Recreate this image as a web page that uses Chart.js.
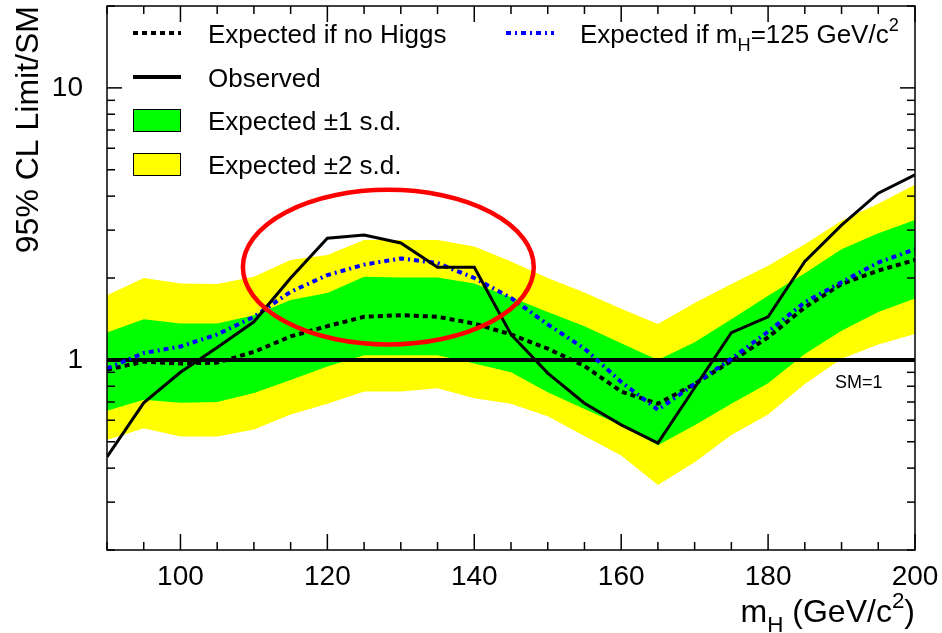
<!doctype html>
<html lang="en">
<head>
<meta charset="utf-8">
<title>95% CL Limit/SM</title>
<script src="https://cdn.jsdelivr.net/npm/chart.js"></script>
<style>
  html, body { margin: 0; padding: 0; background: #fff; }
  #wrap { width: 942px; height: 633px; }
</style>
</head>
<body>
<div id="wrap"><canvas id="limitChart" width="942" height="633"></canvas></div>
<script>
// Higgs mass points (GeV/c^2)
const masses = [90, 95, 100, 105, 110, 115, 120, 125, 130, 135, 140, 145, 150, 155, 160, 165, 170, 175, 180, 185, 190, 195, 200];

// 95% CL limit / SM
const observed        = [0.44, 0.695, 0.90, 1.11, 1.38, 2.00, 2.80, 2.88, 2.69, 2.19, 2.19, 1.24, 0.894, 0.693, 0.577, 0.494, 0.79, 1.26, 1.44, 2.30, 3.13, 4.10, 4.79];
const expectedNoHiggs = [0.92, 0.985, 0.97, 0.977, 1.07, 1.22, 1.33, 1.44, 1.46, 1.44, 1.36, 1.24, 1.10, 0.95, 0.765, 0.69, 0.815, 0.99, 1.21, 1.56, 1.90, 2.13, 2.33];
const expected125     = [0.93, 1.06, 1.12, 1.24, 1.44, 1.78, 2.05, 2.24, 2.36, 2.27, 2.00, 1.69, 1.35, 1.10, 0.83, 0.655, 0.815, 1.01, 1.27, 1.63, 1.93, 2.28, 2.55];

// expected +-1 s.d. and +-2 s.d. bands
const band1Hi = [1.26, 1.41, 1.36, 1.36, 1.46, 1.66, 1.76, 2.02, 2.01, 2.01, 1.91, 1.70, 1.50, 1.33, 1.15, 1.00, 1.16, 1.41, 1.72, 2.08, 2.55, 2.92, 3.27];
const band1Lo = [0.65, 0.713, 0.695, 0.70, 0.755, 0.844, 0.945, 1.04, 1.04, 1.04, 0.97, 0.90, 0.76, 0.66, 0.575, 0.485, 0.575, 0.69, 0.82, 1.05, 1.28, 1.50, 1.68];
const band2Hi = [1.73, 2.00, 1.91, 1.90, 2.02, 2.33, 2.43, 2.76, 2.76, 2.76, 2.61, 2.30, 2.00, 1.77, 1.54, 1.355, 1.62, 1.90, 2.22, 2.66, 3.25, 3.75, 4.40];
const band2Lo = [0.508, 0.56, 0.523, 0.523, 0.555, 0.63, 0.69, 0.765, 0.765, 0.787, 0.723, 0.69, 0.62, 0.525, 0.445, 0.347, 0.42, 0.53, 0.63, 0.815, 1.01, 1.14, 1.245];

// SM = 1 reference
const smMasses = [90, 200];
const smValues = [1, 1];

// axis ticks
const xTicks = [90, 95, 100, 105, 110, 115, 120, 125, 130, 135, 140, 145, 150, 155, 160, 165, 170, 175, 180, 185, 190, 195, 200];
const xLabels = [100, 120, 140, 160, 180, 200];
const yTicks = [0.2, 0.3, 0.4, 0.5, 0.6, 0.7, 0.8, 0.9, 1, 2, 3, 4, 5, 6, 7, 8, 9, 10, 20];
const yLabels = [1, 10];

// highlighted region (mass range, limit range)
const ringMass = [108.5, 148.1];
const ringLimit = [1.14, 4.22];

const FONT = '"Liberation Sans", Arial, Helvetica, sans-serif';

const pts = (xs, ys) => xs.map((x, i) => ({ x: x, y: ys[i] }));

function bandEdge(ys, color, fillTo, order) {
  return {
    data: pts(masses, ys),
    borderColor: 'rgba(0,0,0,0)',
    borderWidth: 0,
    backgroundColor: color,
    fill: fillTo === null ? false : fillTo,
    pointRadius: 0,
    order: order
  };
}

const datasets = [
  { label: 'Observed', data: pts(masses, observed), borderColor: '#000', borderWidth: 3,
    fill: false, pointRadius: 0, order: 1 },
  { label: 'Expected if mH=125', data: pts(masses, expected125), borderColor: '#0000ff', borderWidth: 4,
    borderDash: [5, 4, 2, 4], fill: false, pointRadius: 0, order: 2 },
  { label: 'SM=1', data: pts(smMasses, smValues), borderColor: '#000', borderWidth: 4,
    fill: false, pointRadius: 0, order: 3 },
  { label: 'Expected if no Higgs', data: pts(masses, expectedNoHiggs), borderColor: '#000', borderWidth: 4,
    borderDash: [5, 4], fill: false, pointRadius: 0, order: 4 },
  bandEdge(band1Hi, '#00ff00', 5, 5),
  bandEdge(band1Lo, '#00ff00', null, 6),
  bandEdge(band2Hi, '#ffff00', 7, 7),
  bandEdge(band2Lo, '#ffff00', null, 8)
];

function line(ctx, x1, y1, x2, y2) {
  ctx.beginPath();
  ctx.moveTo(x1, y1);
  ctx.lineTo(x2, y2);
  ctx.stroke();
}

// text with sub/superscripts: parts = [[text, 'sub'|'sup'|undefined], ...]
function richWidth(ctx, parts, size) {
  let w = 0;
  parts.forEach(p => {
    ctx.font = (p[1] ? size * 0.7 : size) + 'px ' + FONT;
    w += ctx.measureText(p[0]).width;
  });
  return w;
}

function drawRich(ctx, parts, x, y, size) {
  ctx.textAlign = 'left';
  ctx.textBaseline = 'alphabetic';
  parts.forEach(p => {
    let dy = 0;
    if (p[1] === 'sub') dy = size * 0.3;
    if (p[1] === 'sup') dy = -size * 0.45;
    ctx.font = (p[1] ? size * 0.7 : size) + 'px ' + FONT;
    ctx.fillText(p[0], x, y + dy);
    x += ctx.measureText(p[0]).width;
  });
}

const decorations = {
  id: 'decorations',
  afterDatasetsDraw(chart) {
    const ctx = chart.ctx;
    const { left, right, top, bottom } = chart.chartArea;
    const xs = chart.scales.x, ys = chart.scales.y;
    const ds = chart.data.datasets;
    ctx.save();
    ctx.fillStyle = '#000';

    // frame and inward ticks on all four sides
    ctx.strokeStyle = '#000';
    ctx.lineWidth = 1.5;
    ctx.setLineDash([]);
    xTicks.forEach(m => {
      const px = xs.getPixelForValue(m);
      const len = xLabels.includes(m) ? 16 : 8;
      line(ctx, px, bottom, px, bottom - len);
      line(ctx, px, top, px, top + len);
    });
    yTicks.forEach(v => {
      const py = ys.getPixelForValue(v);
      const len = yLabels.includes(v) ? 15 : 8;
      line(ctx, left, py, left + len, py);
      line(ctx, right, py, right - len, py);
    });
    ctx.strokeRect(left, top, right - left, bottom - top);

    // SM=1 label
    ctx.font = '18px ' + FONT;
    ctx.textAlign = 'left';
    ctx.textBaseline = 'alphabetic';
    ctx.fillText('SM=1', 835, 388);

    // legend
    const sample = (d, x, y) => {
      ctx.strokeStyle = d.borderColor;
      ctx.lineWidth = 4;
      ctx.setLineDash(d.borderDash || []);
      line(ctx, x, y, x + 48, y);
      ctx.setLineDash([]);
    };
    const box = (color, x, y) => {
      ctx.fillStyle = color;
      ctx.fillRect(x, y, 48, 23);
      ctx.strokeStyle = '#000';
      ctx.lineWidth = 1;
      ctx.strokeRect(x + 0.5, y + 0.5, 47, 22);
      ctx.fillStyle = '#000';
    };
    const LS = 26;
    sample(ds[3], 133, 33);
    drawRich(ctx, [['Expected if no Higgs']], 208, 43, LS);
    sample(ds[0], 133, 77);
    drawRich(ctx, [['Observed']], 208, 87, LS);
    box(ds[4].backgroundColor, 133, 109);
    drawRich(ctx, [['Expected \u00b11 s.d.']], 208, 130, LS);
    box(ds[6].backgroundColor, 133, 153);
    drawRich(ctx, [['Expected \u00b12 s.d.']], 208, 174, LS);
    sample(ds[1], 506, 33);
    drawRich(ctx, [['Expected if m'], ['H', 'sub'], ['=125 GeV/c'], ['2', 'sup']], 580, 43, LS);

    // axis titles
    const xt = [['m'], ['H', 'sub'], [' (GeV/c'], ['2', 'sup'], [')']];
    drawRich(ctx, xt, right - richWidth(ctx, xt, 32), 622, 32);
    ctx.save();
    ctx.translate(38, top);
    ctx.rotate(-Math.PI / 2);
    ctx.font = '32px ' + FONT;
    ctx.textAlign = 'right';
    ctx.textBaseline = 'alphabetic';
    ctx.fillText('95% CL Limit/SM', 0, 0);
    ctx.restore();

    // highlighted region
    const x1 = xs.getPixelForValue(ringMass[0]), x2 = xs.getPixelForValue(ringMass[1]);
    const y1 = ys.getPixelForValue(ringLimit[0]), y2 = ys.getPixelForValue(ringLimit[1]);
    ctx.strokeStyle = '#ff0000';
    ctx.lineWidth = 4.5;
    ctx.beginPath();
    ctx.ellipse((x1 + x2) / 2, (y1 + y2) / 2, Math.abs(x2 - x1) / 2, Math.abs(y1 - y2) / 2, 0, 0, Math.PI * 2);
    ctx.stroke();
    ctx.restore();
  }
};

new Chart(document.getElementById('limitChart'), {
  type: 'line',
  data: { datasets: datasets },
  plugins: [decorations],
  options: {
    responsive: false,
    animation: false,
    layout: { padding: { left: 0, top: 6, right: 27, bottom: 0 } },
    plugins: { legend: { display: false }, tooltip: { enabled: false } },
    elements: { line: { tension: 0 } },
    scales: {
      x: {
        type: 'linear',
        min: 90, max: 200,
        afterBuildTicks: s => { s.ticks = xTicks.map(v => ({ value: v })); },
        afterFit: s => { s.height = 83; s.paddingLeft = 0; s.paddingRight = 0; },
        grid: { display: false, drawTicks: false },
        border: { display: false },
        ticks: {
          autoSkip: false, maxRotation: 0, padding: 10, color: '#000',
          font: { family: FONT, size: 28 },
          callback: v => (xLabels.includes(v) ? String(v) : '')
        }
      },
      y: {
        type: 'logarithmic',
        min: 0.2, max: 20,
        afterBuildTicks: s => { s.ticks = yTicks.map(v => ({ value: v })); },
        afterFit: s => { s.width = 107; s.paddingTop = 0; s.paddingBottom = 0; },
        grid: { display: false, drawTicks: false },
        border: { display: false },
        ticks: {
          autoSkip: false, padding: 24, color: '#000',
          font: { family: FONT, size: 28 },
          callback: v => (yLabels.includes(v) ? String(v) : '')
        }
      }
    }
  }
});
</script>
</body>
</html>
